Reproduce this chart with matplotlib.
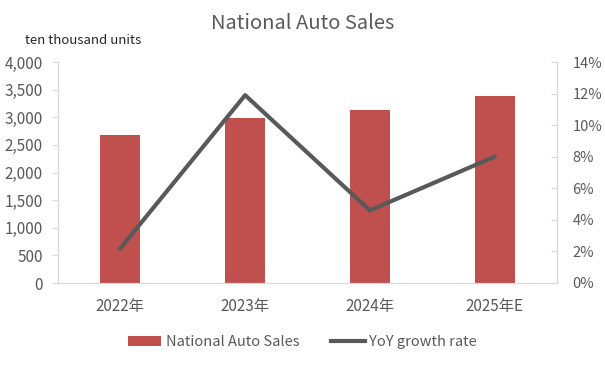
import matplotlib.pyplot as plt
import numpy as np

plt.rcParams['font.family'] = ['Noto Sans CJK SC', 'DejaVu Sans']

years = ['2022年', '2023年', '2024年', '2025年E']
sales = [2680, 2990, 3135, 3390]
yoy = [2.2, 11.9, 4.6, 8.0]

grey = '#595959'
axis_col = '#d9d9d9'

fig = plt.figure(figsize=(6.05, 3.67), dpi=100)
ax = fig.add_axes([58/605, 1-283/367, (557-58)/605, (283-62)/367])
x = np.arange(len(years))
bars = ax.bar(x, sales, width=0.32, color='#c0504d', label='National Auto Sales', zorder=2)
ax.set_xlim(-0.5, 3.5)
ax.set_ylim(0, 4000)
ax.set_yticks(range(0, 4001, 500))
ax.set_yticklabels([f'{v:,}' for v in range(0, 4001, 500)])
ax.set_xticks(x)
ax.set_xticklabels(years)

ax2 = ax.twinx()
line, = ax2.plot(x, yoy, color='#595959', lw=3, label='YoY growth rate', zorder=3)
ax2.set_ylim(0, 14)
ax2.set_yticks(range(0, 15, 2))
ax2.set_yticklabels([f'{v}%' for v in range(0, 15, 2)])

for a in (ax, ax2):
    a.spines['top'].set_visible(False)
    for s in ('left', 'right', 'bottom'):
        a.spines[s].set_color(axis_col)
    a.tick_params(colors=grey, labelsize=11, length=4, color=axis_col)
ax.tick_params(axis='y', pad=7)
ax.tick_params(axis='x', length=0, pad=11)
ax2.tick_params(axis='y', direction='in', pad=11, labelsize=10.5)

ax.text(-0.066, 1.07, 'ten thousand units', transform=ax.transAxes, fontsize=9.5,
        color='#262626', ha='left', va='bottom')
fig.text(0.5, 0.935, 'National Auto Sales', ha='center', va='center', fontsize=14.5, color=grey)

fig.legend([bars, line], ['National Auto Sales', 'YoY growth rate'], loc='center',
           bbox_to_anchor=(0.5, 0.068), ncol=2, frameon=False, fontsize=10.5,
           labelcolor=grey, handlelength=2.3, handletextpad=0.3, columnspacing=2.2)

fig.savefig('out.png', dpi=100)
